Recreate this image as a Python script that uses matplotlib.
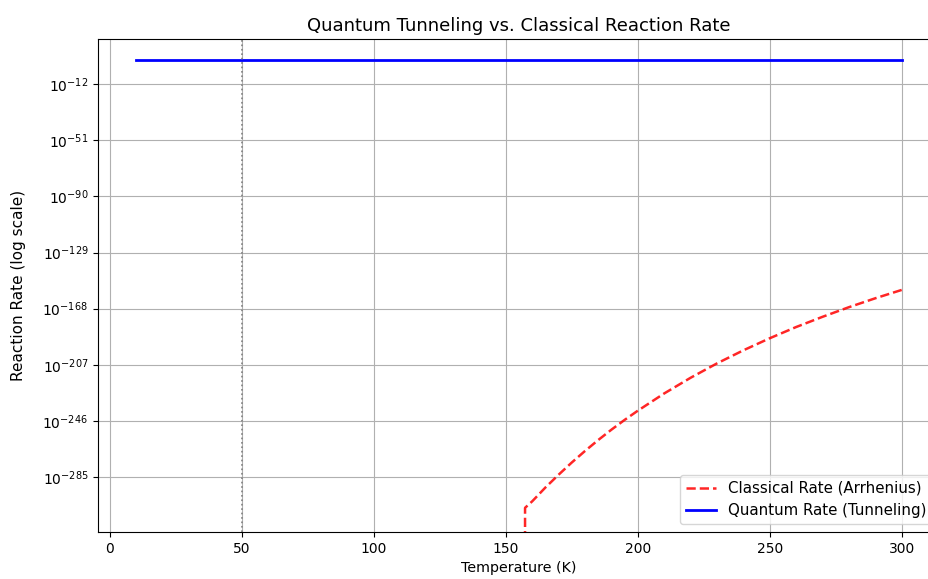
import matplotlib
matplotlib.use('Agg')
import matplotlib.pyplot as plt
from matplotlib.ticker import FixedLocator, NullLocator

# Temperatures (K) and log10 of the classical rate
classical_temp = [157.3, 160, 165, 170, 175, 180, 185, 190, 195, 200,
                  210, 220, 230, 240, 250, 260, 270, 280, 290, 300]
classical_log_rate = [-306.5, -302, -292.4, -283.5, -275, -267, -259.4, -252.2,
                      -245.4, -239, -227, -216.1, -206.1, -197, -188.6, -180.8,
                      -173.7, -167, -160.8, -155]
# just below 157 K the rate underflows to zero (the vertical drop)
underflow_temp = 157.0

quantum_temp = [10, 300]
quantum_rate = [8e4, 8e4]

crossover_temp = 50
ytick_exponents = [-12, -51, -90, -129, -168, -207, -246, -285]

temps = [underflow_temp] + classical_temp
rates = [0.0] + [10.0 ** e for e in classical_log_rate]

fig = plt.figure(figsize=(9.29, 5.79), dpi=100)
ax = fig.add_axes([0.1055, 0.0812, 0.9063, 0.8515])

ax.plot(temps, rates, 'r--', linewidth=1.8, alpha=0.85,
        label='Classical Rate (Arrhenius)')
ax.plot(quantum_temp, quantum_rate, 'b-', linewidth=2,
        label='Quantum Rate (Tunneling)')
ax.axvline(crossover_temp, color='gray', linestyle=':', linewidth=1.2)

ax.set_yscale('log')
ax.set_xlim(-4.5, 314.5)
ax.set_ylim(5e-324, 10 ** 19.5)
ax.yaxis.set_major_locator(FixedLocator([10.0 ** e for e in ytick_exponents]))
ax.yaxis.set_minor_locator(NullLocator())

ax.set_title('Quantum Tunneling vs. Classical Reaction Rate', fontsize=13)
ax.set_xlabel('Temperature (K)', fontsize=10.3)
ax.set_ylabel('Reaction Rate (log scale)', fontsize=11, labelpad=12)
ax.grid(True)
ax.legend(loc='lower right', fontsize=10.8)

plt.savefig('out.png', dpi=100)
